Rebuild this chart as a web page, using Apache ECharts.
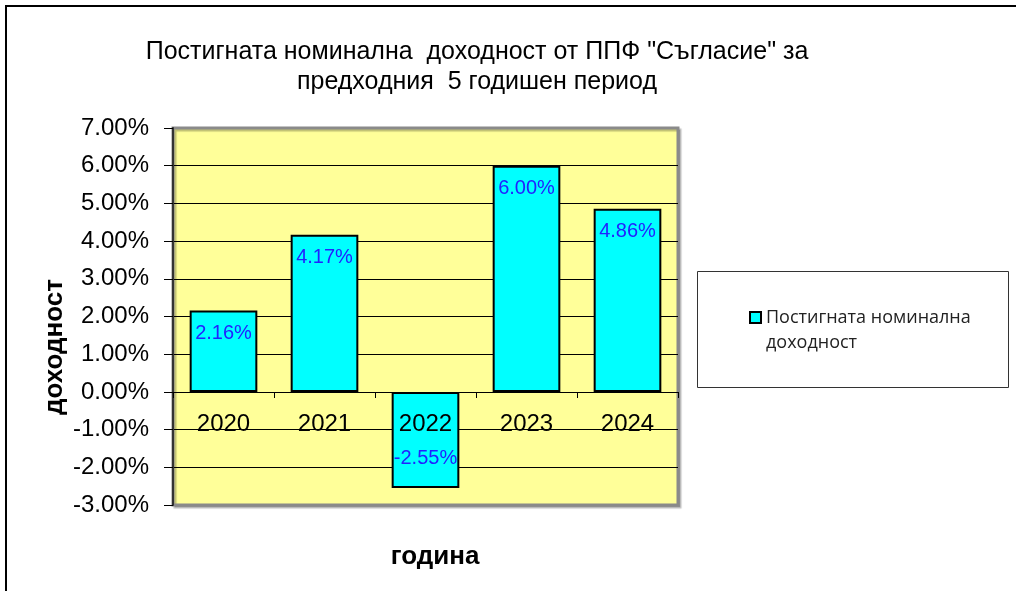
<!DOCTYPE html>
<html>
<head>
<meta charset="utf-8">
<script src="https://cdn.jsdelivr.net/npm/echarts@6/dist/echarts.min.js"></script>
<style>
  html, body { margin: 0; padding: 0; background: #fff; }
  #chart { width: 1016px; height: 591px; }
</style>
</head>
<body>
<div id="chart"></div>
<script>
// години и доходност (в %)
const years = ["2020", "2021", "2022", "2023", "2024"];
const returns = [2.16, 4.17, -2.55, 6.0, 4.86];
const seriesName = "Постигната номинална доходност";

const chart = echarts.init(document.getElementById("chart"));
const font = "'Liberation Sans', Arial, sans-serif";

chart.setOption({
  animation: false,
  title: {
    text: 'Постигната номинална  доходност от ППФ "Съгласие" за\nпредходния  5 годишен период',
    left: 472,
    top: 32,
    textAlign: "center",
    textStyle: { fontFamily: font, fontSize: 25, fontWeight: "normal", color: "#000", lineHeight: 30 },
  },
  legend: {
    left: 744,
    top: 275,
    itemWidth: 11,
    itemHeight: 11,
    itemGap: 5,
    icon: "rect",
    itemStyle: { borderColor: "#000", borderWidth: 2 },
    // празен ред отгоре, за да е иконата до първия ред
    formatter: (n) => " \n" + n.replace(" доходност", "\nдоходност"),
    textStyle: { fontFamily: "'Open Sans', sans-serif", fontSize: 18, color: "#222", lineHeight: 25 },
    data: [seriesName],
  },
  grid: {
    left: 173,
    right: 338,
    top: 128,
    bottom: 86,
    show: true,
    backgroundColor: "#FFFF99",
    borderColor: "#8a8a8a",
    borderWidth: 3,
    shadowColor: "rgba(0,0,0,0.25)",
    shadowOffsetX: 2,
    shadowOffsetY: 2,
    shadowBlur: 1,
  },
  xAxis: {
    type: "category",
    data: years,
    z: 5,
    offset: -113,
    axisLine: { onZero: false, lineStyle: { color: "#000", width: 1 } },
    axisTick: { show: true, length: 6, lineStyle: { color: "#000" } },
    axisLabel: { fontFamily: font, fontSize: 24, color: "#000", margin: 20 },
  },
  yAxis: {
    type: "value",
    min: -3,
    max: 7,
    interval: 1,
    axisLine: { show: true, lineStyle: { color: "#333", width: 2 } },
    axisTick: { show: true, length: 9, lineStyle: { color: "#000" } },
    axisLabel: {
      fontFamily: font,
      fontSize: 24,
      color: "#000",
      margin: 24,
      formatter: (v) => v.toFixed(2) + "%",
    },
    splitLine: { show: true, showMinLine: false, showMaxLine: false, lineStyle: { color: "#000", width: 1 } },
  },
  series: [
    {
      name: seriesName,
      type: "bar",
      barWidth: "67%",
      itemStyle: { color: "#00FFFF", borderColor: "#000", borderWidth: 2 },
      label: {
        show: true,
        fontFamily: font,
        fontSize: 20,
        color: "#2222ff",
        formatter: (p) => p.value.toFixed(2) + "%",
      },
      data: returns.map((v) => ({
        value: v,
        label: { position: v < 0 ? "insideBottom" : "insideTop", distance: v < 0 ? 20 : 13 },
      })),
    },
  ],
  graphic: [
    {
      type: "polyline",
      shape: { points: [[6, 600], [6, 6], [1020, 6]] },
      style: { stroke: "#000", lineWidth: 2, fill: null },
    },
    {
      type: "rect",
      shape: { x: 697.5, y: 271.5, width: 311, height: 116 },
      style: { stroke: "#333", lineWidth: 1, fill: null },
      z: -1,
    },
    {
      type: "text",
      x: 55,
      y: 347,
      rotation: Math.PI / 2,
      style: {
        text: "доходност",
        font: "bold 26px 'Liberation Sans', Arial, sans-serif",
        fill: "#000",
        align: "center",
        verticalAlign: "middle",
      },
    },
    {
      type: "text",
      x: 435,
      y: 557,
      style: {
        text: "година",
        font: "bold 26px 'Liberation Sans', Arial, sans-serif",
        fill: "#000",
        align: "center",
        verticalAlign: "middle",
      },
    },
  ],
});
</script>
</body>
</html>
